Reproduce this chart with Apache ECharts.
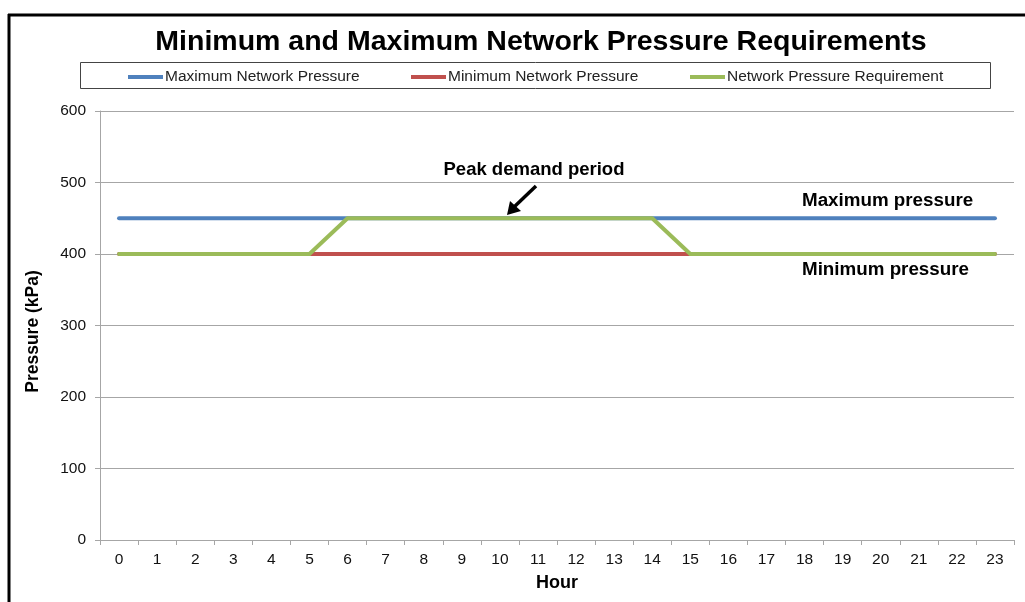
<!DOCTYPE html>
<html>
<head>
<meta charset="utf-8">
<title>Minimum and Maximum Network Pressure Requirements</title>
<script src="https://cdn.jsdelivr.net/npm/echarts@6/dist/echarts.min.js"></script>
<style>
  html, body { margin: 0; padding: 0; background: #fff; }
  #chart { width: 1025px; height: 602px; }
</style>
</head>
<body>
<div id="chart"></div>
<script>
// Hours of the day
var hours = ['0','1','2','3','4','5','6','7','8','9','10','11','12','13','14','15','16','17','18','19','20','21','22','23'];

// Pressures in kPa for each hour
var maxPressure = [450,450,450,450,450,450,450,450,450,450,450,450,450,450,450,450,450,450,450,450,450,450,450,450];
var minPressure = [400,400,400,400,400,400,400,400,400,400,400,400,400,400,400,400,400,400,400,400,400,400,400,400];
var requirement = [400,400,400,400,400,400,450,450,450,450,450,450,450,450,450,400,400,400,400,400,400,400,400,400];

var seriesNames = ['Maximum Network Pressure', 'Minimum Network Pressure', 'Network Pressure Requirement'];
var seriesColors = ['#4F81BD', '#C0504D', '#9BBB59'];
var seriesData = [maxPressure, minPressure, requirement];

var FONT = '"Liberation Sans", Arial, sans-serif';

var chart = echarts.init(document.getElementById('chart'), null, { renderer: 'canvas' });

var legendLefts = [128, 411, 690];
var legends = seriesNames.map(function (name, i) {
  return {
    data: [name],
    left: legendLefts[i],
    top: 69,
    padding: 0,
    icon: 'rect',
    itemWidth: 35,
    itemHeight: 4,
    itemGap: 0,
    selectedMode: false,
    textStyle: { fontFamily: FONT, fontSize: 15.5, color: '#222', padding: [0, 0, 0, -3] }
  };
});

var series = seriesNames.map(function (name, i) {
  return {
    name: name,
    type: 'line',
    data: seriesData[i],
    symbol: 'none',
    z: 2 + i,
    lineStyle: { color: seriesColors[i], width: 4, cap: 'round', join: 'round' },
    itemStyle: { color: seriesColors[i] },
    emphasis: { disabled: true }
  };
});

chart.setOption({
  animation: false,
  backgroundColor: '#fff',
  title: {
    text: 'Minimum and Maximum Network Pressure Requirements',
    left: 541,
    textAlign: 'center',
    top: 28,
    padding: 0,
    textStyle: { fontFamily: FONT, fontSize: 28.5, fontWeight: 'bold', color: '#000' }
  },
  legend: legends,
  grid: { left: 100, right: 11, top: 111, bottom: 62 },
  xAxis: {
    type: 'category',
    data: hours,
    boundaryGap: true,
    name: 'Hour',
    nameLocation: 'middle',
    nameGap: 34,
    nameTextStyle: { fontFamily: FONT, fontSize: 18, fontWeight: 'bold', color: '#000' },
    axisLine: { lineStyle: { color: '#a6a6a6', width: 1 } },
    axisTick: { show: true, length: 5, inside: false, lineStyle: { color: '#a6a6a6' } },
    axisLabel: { fontFamily: FONT, fontSize: 15.5, color: '#111', margin: 12, interval: 0 },
    splitLine: { show: false }
  },
  yAxis: {
    type: 'value',
    min: 0,
    max: 600,
    interval: 100,
    name: 'Pressure (kPa)',
    nameLocation: 'middle',
    nameGap: 58,
    nameTextStyle: { fontFamily: FONT, fontSize: 17.5, fontWeight: 'bold', color: '#000', padding: [0, 12, 0, 0] },
    axisLine: { show: true, lineStyle: { color: '#a6a6a6', width: 1 } },
    axisTick: { show: true, length: 5, lineStyle: { color: '#a6a6a6' } },
    axisLabel: { fontFamily: FONT, fontSize: 15.5, color: '#111', margin: 14 },
    splitLine: { show: true, lineStyle: { color: '#a6a6a6', width: 1 } }
  },
  series: series,
  graphic: [
    // chart frame (top and left edges)
    { type: 'line', shape: { x1: 8, y1: 15, x2: 1025, y2: 15 }, style: { stroke: '#000', lineWidth: 3 }, z: 10 },
    { type: 'line', shape: { x1: 9, y1: 14, x2: 9, y2: 602 }, style: { stroke: '#000', lineWidth: 3 }, z: 10 },
    // legend box
    { type: 'rect', shape: { x: 80.5, y: 62.5, width: 910, height: 26 }, style: { fill: 'none', stroke: '#444', lineWidth: 1 }, z: 1 },
    // annotations
    { type: 'text', x: 534, y: 170, style: { text: 'Peak demand period', font: 'bold 18.5px ' + FONT, fill: '#000', textAlign: 'center', textVerticalAlign: 'middle' }, z: 10 },
    { type: 'text', x: 802, y: 201, style: { text: 'Maximum pressure', font: 'bold 18.8px ' + FONT, fill: '#000', textAlign: 'left', textVerticalAlign: 'middle' }, z: 10 },
    { type: 'text', x: 802, y: 270, style: { text: 'Minimum pressure', font: 'bold 18.8px ' + FONT, fill: '#000', textAlign: 'left', textVerticalAlign: 'middle' }, z: 10 },
    // arrow pointing at the peak period
    { type: 'line', shape: { x1: 536, y1: 186, x2: 513, y2: 208 }, style: { stroke: '#000', lineWidth: 3.5 }, z: 10 },
    { type: 'polygon', shape: { points: [[507, 215], [510, 201], [521, 211]] }, style: { fill: '#000' }, z: 10 }
  ]
});
</script>
</body>
</html>
